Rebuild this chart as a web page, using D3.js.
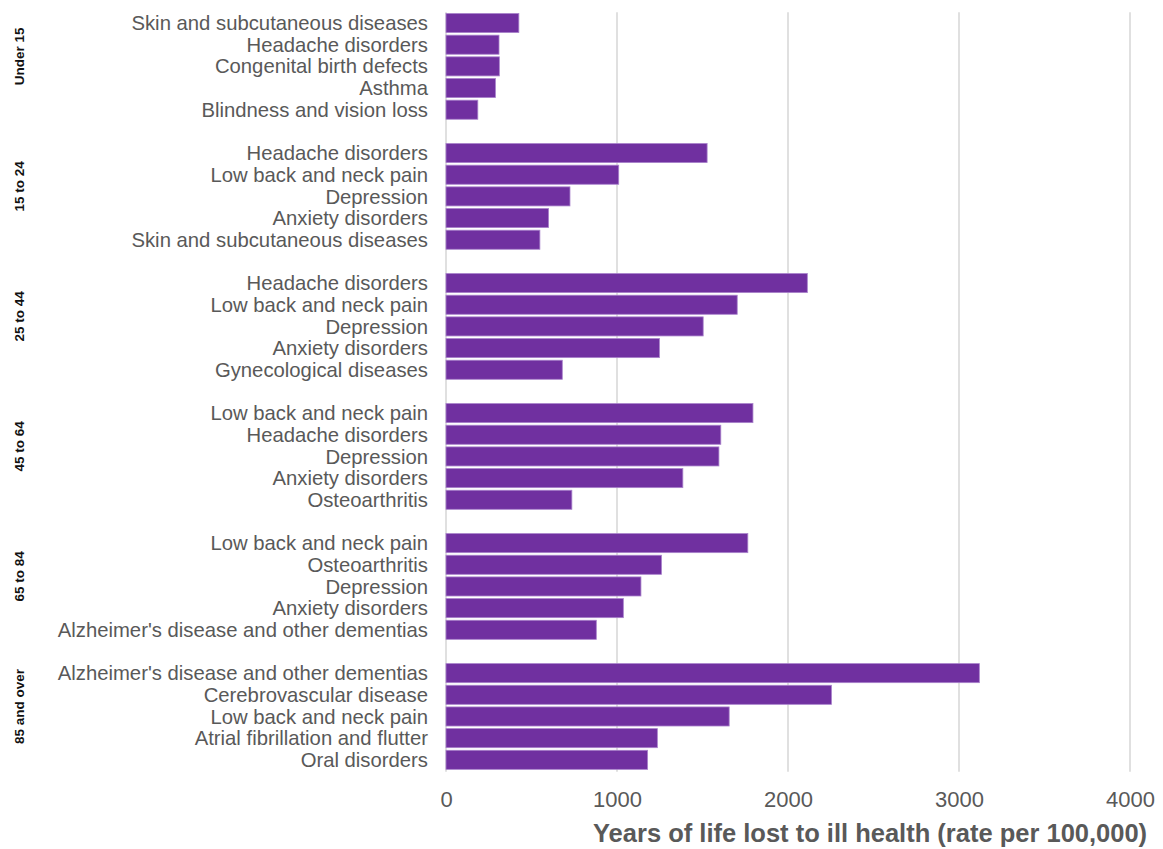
<!DOCTYPE html>
<html>
<head>
<meta charset="utf-8">
<script src="https://cdn.jsdelivr.net/npm/d3@7"></script>
<style>
  html, body { margin: 0; padding: 0; background: #ffffff; }
  svg { display: block; font-family: "Liberation Sans", Arial, sans-serif; }
</style>
</head>
<body>
<svg id="chart" width="1163" height="849"></svg>
<script>
// Age groups, top to bottom
const ageGroups = ["Under 15", "15 to 24", "25 to 44", "45 to 64", "65 to 84", "85 and over"];

// Top five causes within each age group
const causesUnder15 = ["Skin and subcutaneous diseases", "Headache disorders", "Congenital birth defects", "Asthma", "Blindness and vision loss"];
const values_Under15 = [426, 310, 312, 289, 186];

const causes15to24 = ["Headache disorders", "Low back and neck pain", "Depression", "Anxiety disorders", "Skin and subcutaneous diseases"];
const values15to24 = [1527, 1010, 725, 600, 549];

const causes25to44 = ["Headache disorders", "Low back and neck pain", "Depression", "Anxiety disorders", "Gynecological diseases"];
const values25to44 = [2113, 1703, 1504, 1248, 680];

const causes45to64 = ["Low back and neck pain", "Headache disorders", "Depression", "Anxiety disorders", "Osteoarthritis"];
const values45to64 = [1795, 1607, 1596, 1385, 736];

const causes65to84 = ["Low back and neck pain", "Osteoarthritis", "Depression", "Anxiety disorders", "Alzheimer's disease and other dementias"];
const values65to84 = [1765, 1260, 1140, 1037, 879];

const causes85plus = ["Alzheimer's disease and other dementias", "Cerebrovascular disease", "Low back and neck pain", "Atrial fibrillation and flutter", "Oral disorders"];
const values85plus = [3119, 2254, 1656, 1236, 1179];

const xTicks = [0, 1000, 2000, 3000, 4000];
const xTitle = "Years of life lost to ill health (rate per 100,000)";

const causeLists = [causesUnder15, causes15to24, causes25to44, causes45to64, causes65to84, causes85plus];
const valueLists = [values_Under15, values15to24, values25to44, values45to64, values65to84, values85plus];

const rows = [];
ageGroups.forEach((g, gi) => {
  causeLists[gi].forEach((c, i) => rows.push({ group: g, rank: i, cause: c, value: valueLists[gi][i] }));
});

const svg = d3.select("#chart");

const plotLeft = 446, plotRight = 1130;
const plotTop = 12.2, rowStep = 21.67;
const barsPerGroup = 5;
const groupStep = rowStep * (barsPerGroup + 1);

const x = d3.scaleLinear().domain([0, 4000]).range([plotLeft, plotRight]);

// Each group gets six rows: five bars and one empty spacer row
const yGroup = d3.scaleBand()
  .domain(ageGroups)
  .range([plotTop, plotTop + groupStep * ageGroups.length]);

const yInner = d3.scaleBand()
  .domain(d3.range(barsPerGroup))
  .range([0, rowStep * barsPerGroup])
  .paddingInner(0.12)
  .paddingOuter(0.06);

const yBar = d => yGroup(d.group) + yInner(d.rank);
const plotBottom = yGroup(ageGroups[ageGroups.length - 1]) + rowStep * barsPerGroup;

// Vertical gridlines
svg.append("g")
  .selectAll("line")
  .data(xTicks)
  .join("line")
  .attr("x1", d => x(d)).attr("x2", d => x(d))
  .attr("y1", plotTop).attr("y2", plotBottom + 1)
  .attr("stroke", "#d9d9d9")
  .attr("stroke-width", 1.6);

// Bars
svg.append("g")
  .selectAll("rect")
  .data(rows)
  .join("rect")
  .attr("x", x(0))
  .attr("y", d => yBar(d))
  .attr("width", d => x(d.value) - x(0))
  .attr("height", yInner.bandwidth())
  .attr("fill", "#7030a0")
  .attr("stroke", "#a982cb")
  .attr("stroke-width", 0.8);

// Cause labels
svg.append("g")
  .selectAll("text")
  .data(rows)
  .join("text")
  .attr("x", 428)
  .attr("y", d => yBar(d) + yInner.bandwidth() / 2)
  .attr("dy", "0.35em")
  .attr("text-anchor", "end")
  .attr("font-size", 20.3)
  .attr("fill", "#595959")
  .text(d => d.cause);

// Age group labels, rotated
svg.append("g")
  .selectAll("text")
  .data(ageGroups)
  .join("text")
  .attr("transform", g => {
    const cy = yGroup(g) + rowStep * barsPerGroup / 2 - 10;
    return `translate(19,${cy}) rotate(-90)`;
  })
  .attr("dy", "0.35em")
  .attr("text-anchor", "middle")
  .attr("font-size", 13.5)
  .attr("font-weight", "bold")
  .attr("fill", "#111111")
  .text(g => g);

// X axis tick labels
const xAxis = d3.axisBottom(x).tickValues(xTicks).tickSize(0).tickPadding(0).tickFormat(d3.format("d"));
const axisG = svg.append("g")
  .attr("transform", `translate(0,${plotBottom + 21})`)
  .call(xAxis);
axisG.select(".domain").remove();
axisG.selectAll("text")
  .attr("font-size", 22)
  .attr("font-family", "'Liberation Sans', Arial, sans-serif")
  .attr("fill", "#595959");

// X axis title
svg.append("text")
  .attr("x", 593)
  .attr("y", 842)
  .attr("font-size", 25.5)
  .attr("font-weight", "bold")
  .attr("fill", "#595959")
  .text(xTitle);
</script>
</body>
</html>
